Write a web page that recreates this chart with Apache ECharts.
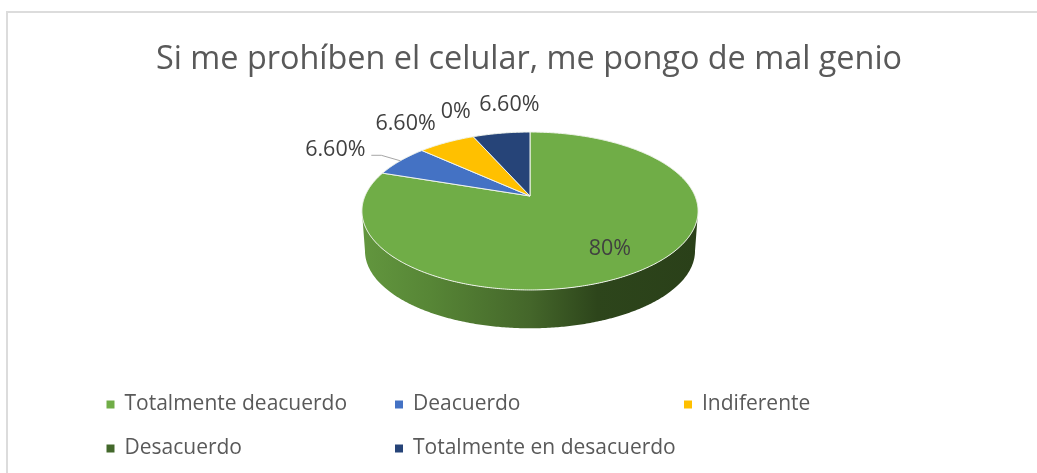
<!DOCTYPE html>
<html>
<head>
<meta charset="utf-8">
<style>html,body{margin:0;padding:0;background:#fff}#c{width:1037px;height:473px}</style>
<script src="https://cdn.jsdelivr.net/npm/echarts@6/dist/echarts.min.js"></script>
</head>
<body>
<div id="c"></div>
<script>
const titleText = 'Si me prohíben el celular, me pongo de mal genio';
const categories = ['Totalmente deacuerdo', 'Deacuerdo', 'Indiferente', 'Desacuerdo', 'Totalmente en desacuerdo'];
const values = [80, 6.6, 6.6, 0, 6.6];
const valueLabels = ['80%', '6.60%', '6.60%', '0%', '6.60%'];
const colors = ['#70AD47', '#4472C4', '#FFC000', '#43682B', '#264478'];

// Layout only: projection of the tilted disc, and label placement.
const FONT = '"Open Sans", sans-serif';
const TOP = {x: 530, y: 196, a: 165, b: 76.1, k: 0.19};
const BOTTOM = {x: 530, y: 236.3, a: 162, b: 74.5, k: 0.19};
// centre of each value label, relative to the projected mid-slice rim point
const labelPlace = [
  {r: 0.55, dx: 22, dy: 16},
  {r: 1, dx: -65, dy: -11},
  {r: 1, dx: -41, dy: -19},
  {r: 1, dx: -17.5, dy: -25},
  {r: 1, dx: 8, dy: -28}
];
const leaderFor = [1];
const total = values.reduce((s, v) => s + v, 0);
const fullTurn = Math.PI * 2;

function project(disc, ang, r) {
  const u = Math.sin(ang) * r, v = -Math.cos(ang) * r;
  const w = 1 - disc.k * v;
  return [disc.x + disc.a * u / w, disc.y + disc.b * v / w];
}
function arcPts(disc, from, to) {
  const n = Math.max(2, Math.ceil(Math.abs(to - from) / 0.01));
  const pts = [];
  for (let i = 0; i <= n; i++) pts.push(project(disc, from + (to - from) * i / n, 1));
  return pts;
}
const wallGradient = {
  type: 'linear', global: true, x: 363, y: 0, x2: 698, y2: 0,
  colorStops: [
    {offset: 0, color: '#62963e'},
    {offset: 0.2, color: '#578636'},
    {offset: 0.5, color: '#44662a'},
    {offset: 0.7, color: '#2d451b'},
    {offset: 1, color: '#2a4019'}
  ]
};
const WALL_FROM = 101 * Math.PI / 180, WALL_TO = 259 * Math.PI / 180;

function makeRender(idx) {
  return function (params, api) {
    const value = api.value(0);
    const start = api.value(1) / total * fullTurn;
    const end = start + value / total * fullTurn;
    const mid = (start + end) / 2;
    const children = [];
    const from = Math.max(start, WALL_FROM), to = Math.min(end, WALL_TO);
    if (to > from) {
      const wall = arcPts(TOP, from, to).concat(arcPts(BOTTOM, to, from));
      children.push({type: 'polygon', shape: {points: wall}, style: {fill: wallGradient, stroke: null}});
    }
    if (value > 0) {
      const face = [[TOP.x, TOP.y]].concat(arcPts(TOP, start, end));
      children.push({type: 'polygon', shape: {points: face},
        style: {fill: colors[idx], stroke: '#f0f4ec', lineWidth: 1, lineJoin: 'round'}});
    }
    if (leaderFor.indexOf(idx) >= 0) {
      const p = project(TOP, mid, 1);
      children.push({type: 'polyline', shape: {points: [[p[0] - 29, p[1] - 5.5], [p[0] - 19, p[1] - 5.5], p]},
        style: {fill: null, stroke: '#a6a6a6', lineWidth: 1}});
    }
    const place = labelPlace[idx];
    const lp = project(TOP, mid, place.r);
    children.push({type: 'text', z2: 10,
      style: {x: lp[0] + place.dx, y: lp[1] + place.dy, text: valueLabels[idx],
        fill: '#404040', font: '21.5px ' + FONT, align: 'center', verticalAlign: 'middle'}});
    return {type: 'group', children};
  };
}

let running = 0;
const series = categories.map((name, i) => {
  const row = [values[i], running];
  running += values[i];
  return {
    type: 'custom', name, coordinateSystem: 'none', silent: true,
    color: colors[i], itemStyle: {color: colors[i]},
    renderItem: makeRender(i), data: [row], z: i === 0 ? 2 : 3, animation: false
  };
});

const legendCols = [106.5, 395, 684];
const legendRows = [394, 438];
const legends = categories.map((name, i) => ({
  data: [name],
  left: legendCols[i % 3],
  top: legendRows[Math.floor(i / 3)],
  padding: 0,
  icon: 'rect', itemWidth: 8, itemHeight: 8,
  textStyle: {fontFamily: FONT, fontSize: 21, color: '#595959', padding: [0, 0, 0, 5]},
  selectedMode: false
}));

const chart = echarts.init(document.getElementById('c'), null, {renderer: 'canvas'});
chart.setOption({
  animation: false,
  backgroundColor: '#ffffff',
  title: {
    text: titleText, left: 156, top: 44, padding: 0,
    textStyle: {fontFamily: FONT, fontSize: 32.4, fontWeight: 'normal', color: '#595959'}
  },
  legend: legends,
  graphic: [{type: 'polyline', silent: true, z: -1,
    shape: {points: [[7, 473], [7, 12], [1037, 12]]},
    style: {fill: null, stroke: '#dcdcdc', lineWidth: 2}}],
  series
});
</script>
</body>
</html>
